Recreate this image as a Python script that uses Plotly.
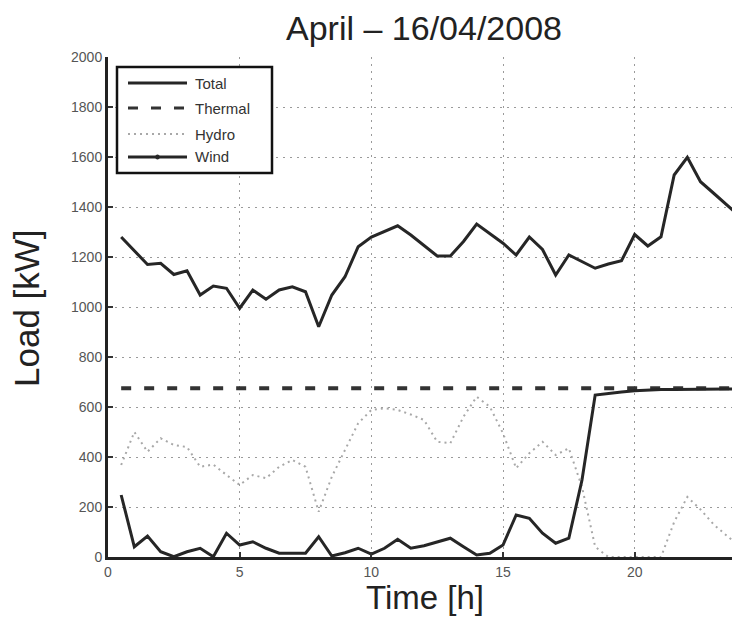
import plotly.graph_objects as go

# ---- data ----
hours = [0.5, 1.0, 1.5, 2.0, 2.5, 3.0, 3.5, 4.0, 4.5, 5.0,
         5.5, 6.0, 6.5, 7.0, 7.5, 8.0, 8.5, 9.0, 9.5, 10.0,
         10.5, 11.0, 11.5, 12.0, 12.5, 13.0, 13.5, 14.0, 14.5, 15.0,
         15.5, 16.0, 16.5, 17.0, 17.5, 18.0, 18.5, 19.0, 19.5, 20.0,
         20.5, 21.0, 21.5, 22.0, 22.5, 23.0, 23.5, 24.0]

total = [1280, 1225, 1170, 1175, 1130, 1145, 1048, 1084, 1075, 995,
         1068, 1031, 1068, 1081, 1061, 921, 1048, 1121, 1241, 1280,
         1301, 1325, 1288, 1247, 1204, 1204, 1262, 1332, 1295, 1255,
         1208, 1280, 1230, 1128, 1208, 1180, 1155, 1172, 1185, 1290,
         1244, 1281, 1528, 1599, 1501, 1455, 1408, 1361]

thermal = [675, 675, 675, 675, 675, 675, 675, 675, 675, 675,
           675, 675, 675, 675, 675, 675, 675, 675, 675, 675,
           675, 675, 675, 675, 675, 675, 675, 675, 675, 675,
           675, 675, 675, 675, 675, 675, 675, 675, 675, 675,
           675, 675, 675, 675, 675, 675, 675, 675]

hydro = [368, 500, 421, 475, 448, 440, 361, 370, 328, 288,
         328, 315, 361, 388, 361, 181, 321, 430, 535, 588,
         595, 588, 570, 548, 461, 455, 561, 641, 601, 495,
         355, 415, 461, 408, 435, 280, 41, 0, 0, 0,
         0, 0, 140, 240, 190, 130, 85, 41]

wind = [248, 41, 84, 21, 1, 21, 35, 1, 95, 48,
        61, 35, 15, 15, 15, 81, 4, 17, 35, 12,
        35, 71, 35, 45, 61, 75, 41, 8, 15, 48,
        168, 155, 95, 55, 75, 308, 648, 655, 660, 665,
        668, 670, 670, 671, 671, 672, 672, 672]

series_names = ["Total", "Thermal", "Hydro", "Wind"]
x_ticks = [0, 5, 10, 15, 20]
y_ticks = [0, 200, 400, 600, 800, 1000, 1200, 1400, 1600, 1800, 2000]

title_text = "April – 16/04/2008"
x_title = "Time [h]"
y_title = "Load [kW]"

# ---- styles ----
colors = ["#262626", "#333333", "#a8a8a8", "#262626"]
widths = [3, 4, 2, 3]
dashes = ["solid", "10px,13px", "2px,4px", "solid"]
FONT = "Liberation Sans, Arial, sans-serif"

# the page body adds an 8px offset; layout is computed in screen pixels
OFF = 8
W, H = 740, 622
L, T = 100, 49
PW, PH = 632, 500
R = W - L - PW
B = H - T - PH


def px(xs):
    return (xs - OFF - L) / PW


def py(ys):
    return (T + PH + OFF - ys) / PH


fig = go.Figure()
for name, ys, c, w, d in zip(series_names, [total, thermal, hydro, wind],
                             colors, widths, dashes):
    fig.add_trace(go.Scatter(x=hours, y=ys, mode="lines", name=name,
                             line=dict(color=c, width=w, dash=d),
                             showlegend=False))

axis_common = dict(
    showline=True, linecolor="#222222", linewidth=3,
    ticks="inside", ticklen=5, tickwidth=1.5, tickcolor="#333333",
    showgrid=True, gridcolor="#9a9a9a", gridwidth=1, griddash="2px,5px",
    zeroline=False, tickfont=dict(family=FONT, size=14, color="#555555"),
)
fig.update_xaxes(range=[0, 24], tickvals=x_ticks, **axis_common)
fig.update_yaxes(range=[0, 2000], tickvals=y_ticks, **axis_common)

# ---- manual boxed legend ----
shapes = [dict(type="rect", xref="paper", yref="paper",
               x0=px(117), x1=px(272), y0=py(173), y1=py(67),
               line=dict(color="#111111", width=2.5), fillcolor="white",
               layer="above")]
row_y = [83, 108, 134, 157]
annotations = []
for name, c, w, d, ry in zip(series_names, colors, widths, dashes, row_y):
    lw = min(w, 3)
    shapes.append(dict(type="line", xref="paper", yref="paper",
                       x0=px(128), x1=px(187), y0=py(ry), y1=py(ry),
                       line=dict(color=c, width=lw, dash=d), layer="above"))
    annotations.append(dict(text=name, xref="paper", yref="paper",
                            x=px(193), y=py(ry), xanchor="left", yanchor="middle",
                            showarrow=False,
                            font=dict(family=FONT, size=15, color="#333333")))
# marker dot on the Wind legend line
shapes.append(dict(type="circle", xref="paper", yref="paper",
                   x0=px(155.5), x1=px(159.5), y0=py(159), y1=py(155),
                   line=dict(color=colors[3], width=1), fillcolor=colors[3],
                   layer="above"))

annotations += [
    dict(text=title_text, xref="paper", yref="paper", x=px(424), y=py(28),
         xanchor="center", yanchor="middle", showarrow=False,
         font=dict(family=FONT, size=34, color="#222222")),
    dict(text=x_title, xref="paper", yref="paper", x=px(425), y=py(597),
         xanchor="center", yanchor="middle", showarrow=False,
         font=dict(family=FONT, size=33, color="#222222")),
    dict(text=y_title, xref="paper", yref="paper", x=px(26), y=py(308),
         xanchor="center", yanchor="middle", showarrow=False, textangle=-90,
         font=dict(family=FONT, size=35, color="#222222")),
]

fig.update_layout(
    width=W, height=H,
    margin=dict(l=L, r=R, t=T, b=B, pad=0),
    paper_bgcolor="white", plot_bgcolor="white",
    shapes=shapes, annotations=annotations,
    showlegend=False,
)

fig.write_html("out.html")
